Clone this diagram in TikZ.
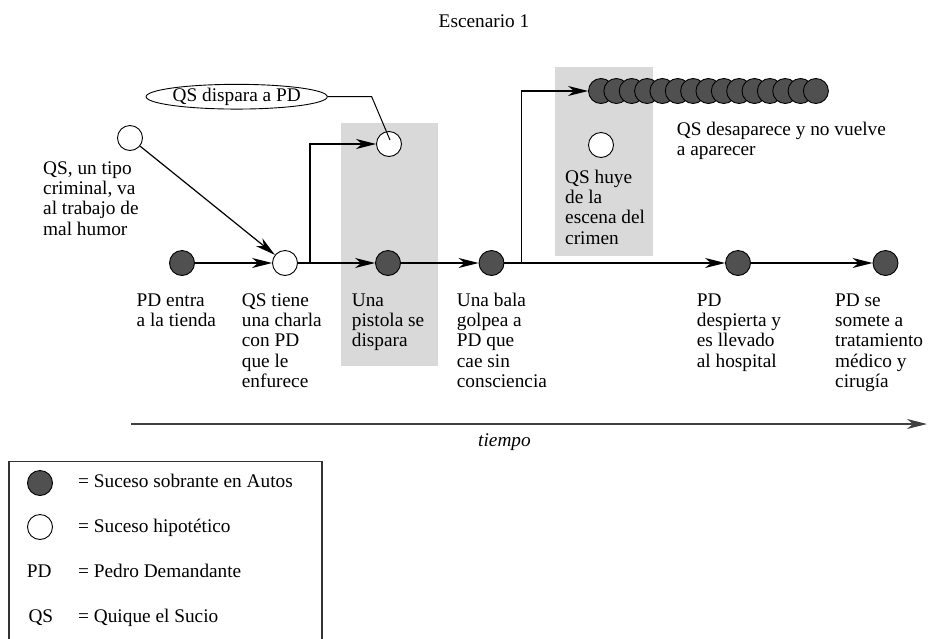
\documentclass[tikz,border=0pt]{standalone}
\usepackage{fontspec}
\setmainfont{Liberation Serif}
\usetikzlibrary{arrows.meta,shapes.geometric}
\definecolor{evdark}{RGB}{80,80,80}
\definecolor{boxgray}{RGB}{217,217,217}
\newcommand\lbfont{\fontsize{19.3}{20.4}\selectfont}
\tikzset{
  evfact/.style={circle,draw=black,line width=0.9pt,fill=evdark,minimum size=25pt,inner sep=0pt},
  evhyp/.style={circle,draw=black,line width=0.9pt,fill=white,minimum size=25pt,inner sep=0pt},
  conn/.style={line width=1.2pt,-{Stealth[length=20pt,width=10pt,inset=6pt]}},
  plainconn/.style={line width=1pt},
  lbl/.style={anchor=base west,align=left,inner sep=0pt,font=\lbfont},
  shadebox/.style={fill=boxgray,draw=none}
}
\begin{document}
\begin{tikzpicture}[x=1pt,y=-1pt]
\useasboundingbox (0,0) rectangle (929,638);
% shaded regions
\fill[shadebox] (341,122.7) rectangle (438.3,365.7);
\fill[shadebox] (555,67.3) rectangle (652.7,256);
% title
\node[font=\lbfont,anchor=base] (title) at (484,27) {Escenario 1};
% event circles
\node[evfact] (pde) at (182,263) {};
\node[evhyp]  (qst) at (285,263) {};
\node[evfact] (pis) at (388,263) {};
\node[evfact] (bal) at (491.5,263) {};
\node[evfact] (des) at (738,263) {};
\node[evfact] (som) at (885.5,263) {};
\node[evhyp]  (tip) at (130,138) {};
\node[evhyp]  (qsd) at (389,144) {};
\node[evhyp]  (huy) at (601,145) {};
\foreach \i in {0,...,14}{
  \node[evfact] (ch\i) at (601+15.35*\i,91) {};
}
\node[draw,ellipse,line width=0.9pt,minimum width=173pt,minimum height=23pt,inner sep=0pt,font=\lbfont] (ell) at (236.7,96.7) {QS dispara a PD};
% connectors
\coordinate (br1) at (310,263);
\coordinate (br2) at (521.7,263);
\draw[conn] (pde) -- (qst);
\draw[conn] (qst) -- (pis);
\draw[conn] (pis) -- (bal);
\draw[conn] (bal) -- (des);
\draw[conn] (des) -- (som);
\draw[conn] (tip) -- (qst);
\draw[conn] (br1) |- (qsd);
\draw[conn] (br2) |- (ch0);
\coordinate (elk) at (371.7,96.7);
\coordinate (elend) at (390,140);
\draw[plainconn] (ell.east) -- (elk) -- (elend);
% labels (anchor = baseline of the last line)
\node[lbl] (lpde) at (136.5,326.4) {PD entra\\a la tienda};
\node[lbl] (lqst) at (241.7,387.6) {QS tiene\\una charla\\con PD\\que le\\enfurece};
\node[lbl] (lpis) at (351.7,346.8) {Una\\pistola se\\dispara};
\node[lbl] (lbal) at (456.7,387.6) {Una bala\\golpea a\\PD que\\cae sin\\consciencia};
\node[lbl] (ldes) at (696.7,367.2) {PD\\despierta y\\es llevado\\al hospital};
\node[lbl] (lsom) at (835,387.6) {PD se\\somete a\\tratamiento\\médico y\\cirugía};
\node[lbl] (ltip) at (43,235.2) {QS, un tipo\\criminal, va\\al trabajo de\\mal humor};
\node[lbl] (lhuy) at (565,244.2) {QS huye\\de la\\escena del\\crimen};
\node[lbl] (lch) at (676.7,155.4) {QS desaparece y no vuelve\\a aparecer};
% time axis
\coordinate (t0) at (131,424);
\coordinate (t1) at (927,424);
\draw[conn,black!75] (t0) -- (t1);
\node[font=\lbfont\itshape,anchor=base] (tie) at (504.5,446) {tiempo};
% legend
\draw[line width=1.2pt,black!80] (9,640) -- (9,461.7) -- (322,461.7) -- (322,640);
\node[evfact] (lg1) at (40,483) {};
\node[evhyp]  (lg2) at (40,527) {};
\node[lbl] (lt1) at (78,487.5) {= Suceso sobrante en Autos};
\node[lbl] (lt2) at (78,532) {= Suceso hipotético};
\node[lbl] (lk3) at (26.7,577) {PD};
\node[lbl] (lt3) at (78,577) {= Pedro Demandante};
\node[lbl] (lk4) at (28.3,622) {QS};
\node[lbl] (lt4) at (78,622) {= Quique el Sucio};
\end{tikzpicture}
\end{document}
